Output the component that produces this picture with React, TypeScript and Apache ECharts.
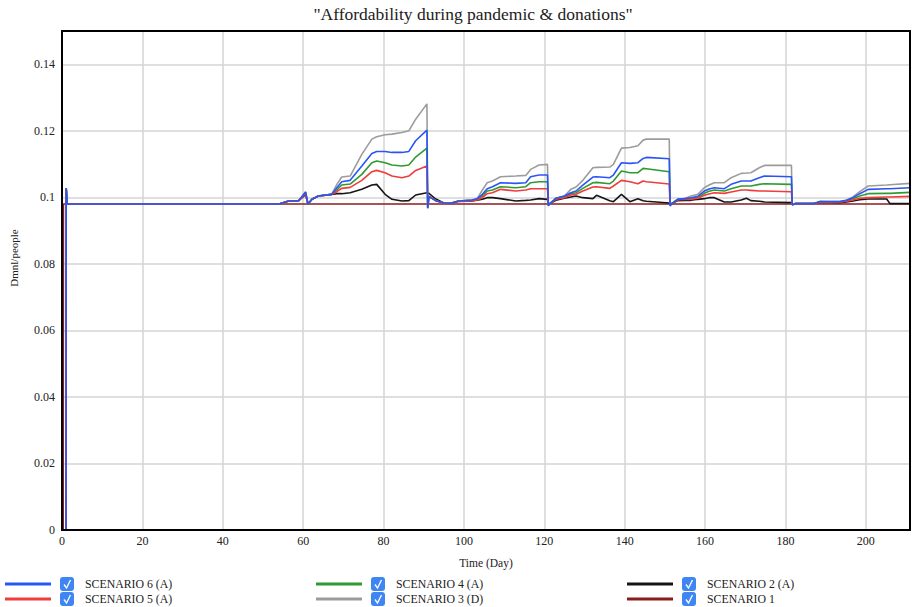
import React, { useEffect, useRef } from "react";
import * as echarts from "echarts";

const TITLE = '"Affordability during pandemic & donations"';
const Y_NAME = "Dmnl/people";
const X_NAME = "Time (Day)";

const days = [
  1, 1.05, 1.3, 54, 56.4, 58.9, 60.6, 61.2, 62.2, 63.8,
  67.1, 68.4, 69.6, 71.7, 74.6, 77.1, 78.3, 80.4, 82.1, 84.6,
  86.3, 88, 90.8, 91, 91.3, 93, 95, 96.7, 98.7, 102,
  103.3, 104.6, 105.8, 107.1, 109.1, 112.9, 115.4, 116.6, 118.7, 120.8,
  121, 121.4, 122.9, 125, 126.6, 127.9, 129.6, 132.1, 133, 136.3,
  137.2, 139.2, 141.3, 143.3, 144.6, 145.4, 151.1, 151.3, 151.8, 153.2,
  154.9, 156.5, 158.2, 159.8, 161, 162.3, 164.8, 166.5, 169, 170.3,
  171.4, 173.5, 174.8, 181.5, 181.7, 182.5, 186.9, 188.5, 193.5, 195.2,
  196.8, 198.5, 200.6, 205.2, 206, 211,
];

const scenario6 = [
  0, 0.1027, 0.098, 0.098, 0.0989, 0.099, 0.1016, 0.098, 0.0994, 0.1004,
  0.1009, 0.1029, 0.1047, 0.1051, 0.1094, 0.1132, 0.1138, 0.1138, 0.1135, 0.1135,
  0.1138, 0.117, 0.1202, 0.0968, 0.1002, 0.099, 0.0983, 0.0982, 0.0989, 0.0992,
  0.0996, 0.1009, 0.1026, 0.1032, 0.1044, 0.1042, 0.1044, 0.1062, 0.1067, 0.1067,
  0.0975, 0.0981, 0.0997, 0.1004, 0.1014, 0.1019, 0.1037, 0.1061, 0.1062, 0.1059,
  0.1067, 0.1104, 0.1102, 0.1104, 0.1117, 0.112, 0.1116, 0.0974, 0.0982, 0.0994,
  0.0996, 0.0999, 0.1003, 0.1019, 0.1025, 0.1029, 0.1026, 0.1039, 0.1049, 0.1049,
  0.1049, 0.1059, 0.1064, 0.1062, 0.0977, 0.0981, 0.0981, 0.0987, 0.0987, 0.0991,
  0.0999, 0.1011, 0.1024, 0.1026, 0.1026, 0.1029,
];

const scenario5 = [
  0, 0.1027, 0.098, 0.098, 0.0989, 0.099, 0.1012, 0.098, 0.0994, 0.1004,
  0.1009, 0.1017, 0.1027, 0.103, 0.1051, 0.1077, 0.1081, 0.1074, 0.1064, 0.1059,
  0.1064, 0.1081, 0.1094, 0.0969, 0.1003, 0.099, 0.0983, 0.0982, 0.0988, 0.099,
  0.0992, 0.0999, 0.1011, 0.1014, 0.1024, 0.1019, 0.1022, 0.1026, 0.1026, 0.1026,
  0.0977, 0.0981, 0.0994, 0.0999, 0.1007, 0.1009, 0.1019, 0.1031, 0.1032, 0.1027,
  0.1034, 0.1051, 0.1047, 0.1041, 0.1049, 0.1047, 0.104, 0.0977, 0.0982, 0.0993,
  0.0994, 0.0994, 0.0997, 0.1006, 0.101, 0.1014, 0.1012, 0.1016, 0.1022, 0.1022,
  0.1021, 0.1019, 0.1019, 0.1017, 0.0979, 0.0981, 0.0981, 0.0986, 0.0985, 0.0988,
  0.0992, 0.0997, 0.0999, 0.1001, 0.1001, 0.1003,
];

const scenario4 = [
  0, 0.1027, 0.098, 0.098, 0.0989, 0.099, 0.1014, 0.098, 0.0994, 0.1004,
  0.1009, 0.1022, 0.1037, 0.104, 0.1069, 0.1104, 0.1109, 0.1104, 0.1097, 0.1094,
  0.1097, 0.1121, 0.1148, 0.0968, 0.1003, 0.099, 0.0983, 0.0982, 0.0989, 0.0991,
  0.0994, 0.1004, 0.1019, 0.1022, 0.1032, 0.1029, 0.1032, 0.1044, 0.1047, 0.1047,
  0.0976, 0.0981, 0.0997, 0.1002, 0.1011, 0.1014, 0.1027, 0.1044, 0.1045, 0.1041,
  0.1049, 0.1079, 0.1074, 0.1074, 0.1087, 0.1086, 0.1077, 0.0976, 0.0982, 0.0994,
  0.0995, 0.0997, 0.0999, 0.1012, 0.1018, 0.1022, 0.1019, 0.1026, 0.1034, 0.1034,
  0.1034, 0.1039, 0.1041, 0.1039, 0.0978, 0.0981, 0.0981, 0.0987, 0.0986, 0.099,
  0.0996, 0.1004, 0.1011, 0.1012, 0.1012, 0.1015,
];

const scenario3 = [
  0, 0.1027, 0.098, 0.098, 0.0989, 0.099, 0.1016, 0.098, 0.0994, 0.1004,
  0.1009, 0.1039, 0.1061, 0.1064, 0.1129, 0.1175, 0.1182, 0.1188, 0.119, 0.1195,
  0.12, 0.1235, 0.1281, 0.0966, 0.1003, 0.099, 0.0983, 0.0982, 0.0989, 0.0992,
  0.0996, 0.1022, 0.1044, 0.1049, 0.1062, 0.1064, 0.1066, 0.1084, 0.1097, 0.1099,
  0.0975, 0.0981, 0.0997, 0.1004, 0.1024, 0.1031, 0.1051, 0.1089, 0.109, 0.1091,
  0.1099, 0.1148, 0.115, 0.1155, 0.1172, 0.1175, 0.1175, 0.0976, 0.0982, 0.0994,
  0.0996, 0.1004, 0.1009, 0.1029, 0.1037, 0.1044, 0.1044, 0.1059, 0.1072, 0.1073,
  0.1074, 0.1089, 0.1096, 0.1096, 0.0978, 0.0981, 0.0981, 0.0987, 0.0987, 0.0991,
  0.1001, 0.1017, 0.1034, 0.1037, 0.1038, 0.1042,
];

const scenario2 = [
  0, 0.1027, 0.098, 0.098, 0.0989, 0.099, 0.1008, 0.098, 0.0994, 0.1004,
  0.1009, 0.1011, 0.1011, 0.1014, 0.1024, 0.1037, 0.1039, 0.1009, 0.0994, 0.0989,
  0.099, 0.1007, 0.1014, 0.1013, 0.1012, 0.0995, 0.0983, 0.0982, 0.0988, 0.0989,
  0.0991, 0.0994, 0.0999, 0.0999, 0.0996, 0.0989, 0.0991, 0.0992, 0.0996, 0.0994,
  0.098, 0.0981, 0.0991, 0.0997, 0.1001, 0.1004, 0.0999, 0.0996, 0.1006, 0.099,
  0.0987, 0.1009, 0.0987, 0.0996, 0.099, 0.0988, 0.0983, 0.098, 0.0981, 0.099,
  0.0991, 0.0991, 0.0994, 0.0996, 0.0999, 0.0999, 0.0986, 0.0986, 0.0992, 0.0997,
  0.099, 0.0988, 0.0986, 0.0984, 0.098, 0.0981, 0.0981, 0.0985, 0.0984, 0.0986,
  0.0989, 0.0993, 0.0995, 0.0995, 0.0981, 0.0981,
];

const scenario1Days = [0.3, 0.35, 211];
const scenario1 = [0, 0.098, 0.098];

const SERIES = [
  { name: "SCENARIO 1", color: "#8b1c1c", x: scenario1Days, y: scenario1 },
  { name: "SCENARIO 2 (A)", color: "#151515", x: days, y: scenario2 },
  { name: "SCENARIO 3 (D)", color: "#9c9c9c", x: days, y: scenario3 },
  { name: "SCENARIO 4 (A)", color: "#2f9a32", x: days, y: scenario4 },
  { name: "SCENARIO 5 (A)", color: "#f03c3c", x: days, y: scenario5 },
  { name: "SCENARIO 6 (A)", color: "#2a55f5", x: days, y: scenario6 },
];

// legend layout: [name, left of swatch, row]
const LEGEND_ITEMS: [string, number, number][] = [
  ["SCENARIO 6 (A)", 5, 0],
  ["SCENARIO 5 (A)", 5, 1],
  ["SCENARIO 4 (A)", 316, 0],
  ["SCENARIO 3 (D)", 316, 1],
  ["SCENARIO 2 (A)", 627, 0],
  ["SCENARIO 1", 627, 1],
];

const FONT = "Liberation Serif, Times New Roman, serif";

export default function App() {
  const ref = useRef<HTMLDivElement>(null);

  useEffect(() => {
    document.body.style.margin = "0";
    if (!ref.current) return;
    const chart = echarts.init(ref.current, null, { renderer: "svg" });

    const rowTop = [577, 592];

    const legends = LEGEND_ITEMS.map(([name, left, row]) => ({
      data: [name],
      left,
      top: rowTop[row],
      padding: 0,
      icon: "rect",
      itemWidth: 46,
      itemHeight: 3,
      selectedMode: false,
      textStyle: {
        fontFamily: FONT,
        fontSize: 11.8,
        color: "#222",
        lineHeight: 14,
        padding: [0, 0, 0, 29],
      },
    }));

    const checkboxes: any[] = [];
    LEGEND_ITEMS.forEach(([, left, row]) => {
      const cx = left + 55;
      const cy = rowTop[row];
      checkboxes.push({
        type: "rect",
        shape: { x: cx, y: cy, width: 14, height: 14, r: 3 },
        style: { fill: "#3f86f2" },
        z: 10,
      });
      checkboxes.push({
        type: "polyline",
        shape: {
          points: [
            [cx + 4, cy + 7.5],
            [cx + 6.5, cy + 11],
            [cx + 10.5, cy + 3],
          ],
        },
        style: { stroke: "#fff", lineWidth: 1.3, fill: null },
        z: 11,
      });
    });

    const option: any = {
      animation: false,
      backgroundColor: "#fff",
      textStyle: { fontFamily: FONT },
      grid: {
        left: 62,
        right: 2,
        top: 31,
        bottom: 77,
        containLabel: false,
        outerBoundsMode: "none",
      },
      legend: legends,
      xAxis: {
        type: "value",
        min: 0,
        max: 211,
        interval: 20,
        name: X_NAME,
        nameLocation: "middle",
        nameGap: 27,
        nameTextStyle: { fontFamily: FONT, fontSize: 11.5, color: "#222" },
        axisLine: { show: false },
        axisTick: { show: false },
        axisLabel: {
          showMaxLabel: false,
          margin: 5,
          fontFamily: FONT,
          fontSize: 12,
          color: "#222",
        },
        splitLine: {
          show: true,
          showMinLine: false,
          showMaxLine: false,
          lineStyle: { color: "#d4d4d4", width: 1.5 },
        },
      },
      yAxis: {
        type: "value",
        min: 0,
        max: 0.15,
        interval: 0.02,
        axisLine: { show: false },
        axisTick: { show: false },
        axisLabel: {
          showMaxLabel: false,
          margin: 7,
          fontFamily: FONT,
          fontSize: 12,
          color: "#222",
        },
        splitLine: {
          show: true,
          showMinLine: false,
          showMaxLine: false,
          lineStyle: { color: "#d4d4d4", width: 1.5 },
        },
      },
      graphic: [
        {
          type: "text",
          x: 473,
          y: 14,
          style: {
            text: TITLE,
            fontFamily: FONT,
            fontSize: 17.5,
            fill: "#222",
            align: "center",
            verticalAlign: "middle",
          },
        },
        {
          type: "text",
          x: 14,
          y: 258,
          rotation: Math.PI / 2,
          style: {
            text: Y_NAME,
            fontFamily: FONT,
            fontSize: 11,
            fill: "#222",
            align: "center",
            verticalAlign: "middle",
          },
        },
        {
          type: "rect",
          shape: { x: 62, y: 31, width: 848, height: 499 },
          style: { fill: null, stroke: "#000", lineWidth: 2 },
          z: 100,
        },
        ...checkboxes,
      ],
      series: SERIES.map((s) => ({
        type: "line",
        name: s.name,
        color: s.color,
        itemStyle: { color: s.color },
        lineStyle: { color: s.color, width: 1.6 },
        showSymbol: false,
        symbol: "none",
        data: s.x.map((d, i) => [d, s.y[i]]),
      })),
    };

    chart.setOption(option);
    return () => chart.dispose();
  }, []);

  return <div ref={ref} style={{ width: 912, height: 607 }} />;
}
